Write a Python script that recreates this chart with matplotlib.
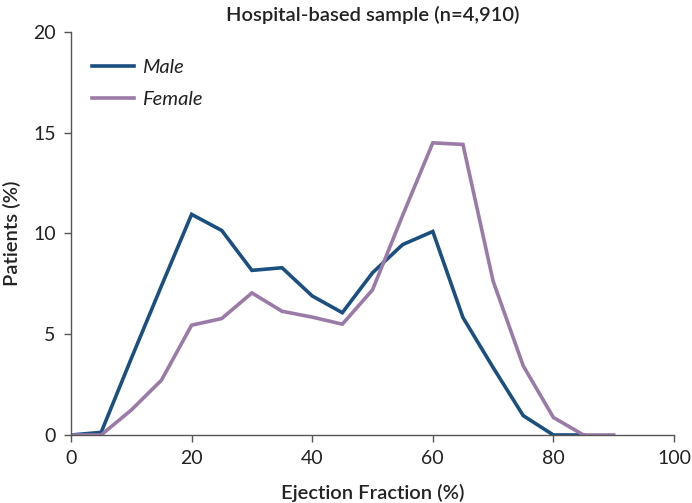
import matplotlib
matplotlib.use("Agg")
import matplotlib.pyplot as plt

ef = [0, 5, 10, 15, 20, 25, 30, 35, 40, 45, 50, 55, 60, 65, 70, 75, 80, 85, 90]
male = [0, 0.13, 3.8, 7.4, 10.95, 10.15, 8.17, 8.3, 6.9, 6.07, 8.05, 9.45, 10.1, 5.83, 3.35, 0.96, 0, 0]
female = [0, 0, 1.24, 2.72, 5.45, 5.78, 7.05, 6.14, 5.85, 5.5, 7.2, 10.9, 14.5, 14.42, 7.64, 3.43, 0.87, 0, 0]
xticks = [0, 20, 40, 60, 80, 100]
yticks = [0, 5, 10, 15, 20]

plt.rcParams['font.family'] = ['Lato', 'DejaVu Sans']

fig = plt.figure(figsize=(6.92, 5.03), dpi=100)
ax = fig.add_axes([71/692, 68/503, 603/692, 403/503])

ax.plot(ef[:len(male)], male, color='#1a4f80', lw=2.6, label='Male', solid_joinstyle='miter')
ax.plot(ef[:len(female)], female, color='#9a7aa6', lw=2.6, label='Female', solid_joinstyle='miter')

ax.set_xlim(0, 100)
ax.set_ylim(0, 20)
ax.set_xticks(xticks)
ax.set_yticks(yticks)
for s in ['top', 'right']:
    ax.spines[s].set_visible(False)
for s in ['left', 'bottom']:
    ax.spines[s].set_color('#555555')
    ax.spines[s].set_linewidth(1.0)
ax.tick_params(direction='out', length=5, width=1.0, color='#555555', labelsize=14, labelcolor='#222222', pad=6)

ax.set_xlabel('Ejection Fraction (%)', fontsize=14.5, fontweight='semibold', color='#222222', labelpad=12)
ax.set_ylabel('Patients (%)', fontsize=14.5, fontweight='semibold', color='#222222', labelpad=9)
ax.set_title('Hospital-based sample (n=4,910)', fontsize=14.5, fontweight='semibold', color='#222222', pad=8)

leg = ax.legend(loc='upper left', bbox_to_anchor=(0.005, 0.978), frameon=False, prop={'style': 'italic', 'size': 14.5},
                handlelength=2.1, handletextpad=0.4, labelspacing=0.72)
for t in leg.get_texts():
    t.set_color('#222222')

fig.savefig('out.png', dpi=100)
